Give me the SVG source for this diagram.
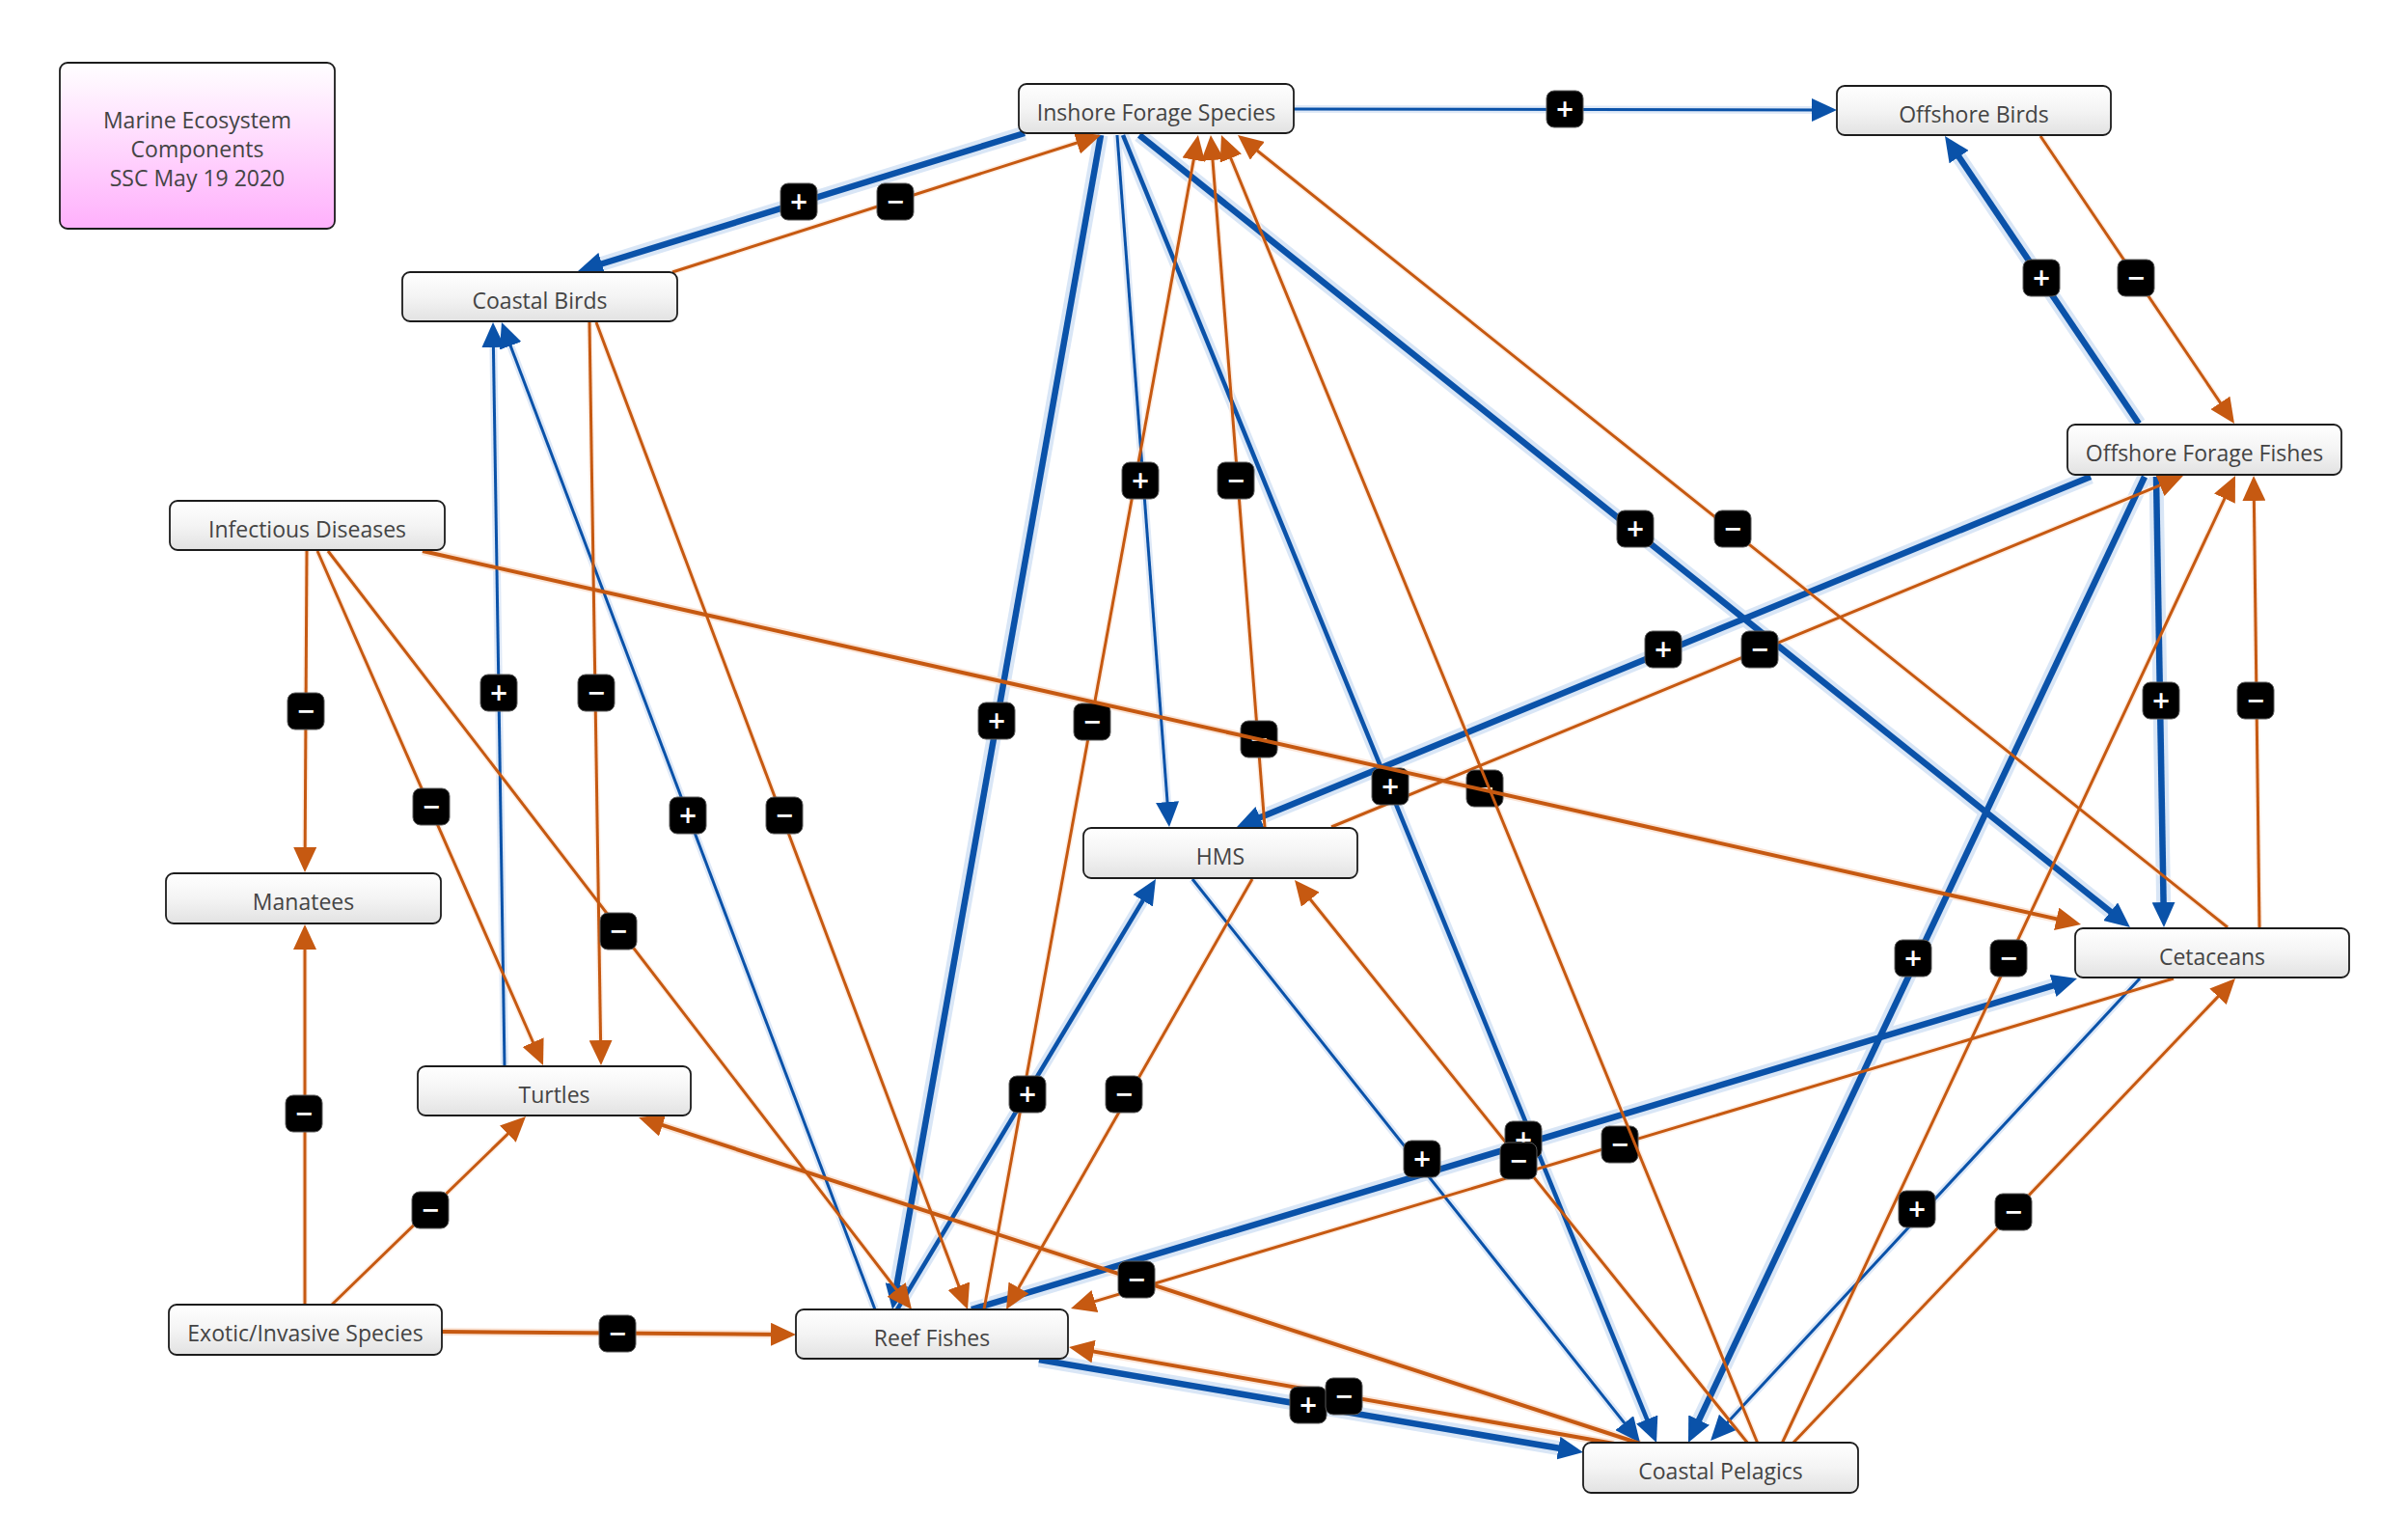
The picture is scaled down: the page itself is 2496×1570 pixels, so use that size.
<svg xmlns="http://www.w3.org/2000/svg" width="2496" height="1570" viewBox="0 0 2496 1570">
<defs>
<linearGradient id="gNode" x1="0" y1="0" x2="0" y2="1">
<stop offset="0" stop-color="#ffffff"/><stop offset="0.5" stop-color="#f4f4f4"/><stop offset="1" stop-color="#e2e2e2"/>
</linearGradient>
<linearGradient id="gLegend" x1="0" y1="0" x2="0" y2="1">
<stop offset="0" stop-color="#ffffff"/><stop offset="1" stop-color="#ffb0fc"/>
</linearGradient>
<marker id="ab" markerUnits="userSpaceOnUse" markerWidth="26" markerHeight="24" viewBox="0 0 26 24" refX="14" refY="12" orient="auto"><path d="M0,0 L26,12 L0,24 z" fill="#0a52a9"/></marker>
<marker id="ao" markerUnits="userSpaceOnUse" markerWidth="26" markerHeight="24" viewBox="0 0 26 24" refX="14" refY="12" orient="auto"><path d="M0,0 L26,12 L0,24 z" fill="#c65911"/></marker>
</defs>
<style>
.node rect{fill:url(#gNode);stroke:#1c1c1c;stroke-width:1.8}
.node text,.legend text{font-family:"Open Sans","Liberation Sans",sans-serif;font-size:23px;fill:#444444;text-anchor:middle}
.legend rect{fill:url(#gLegend);stroke:#1c1c1c;stroke-width:1.8}
line{fill:none;stroke-linecap:butt}
.h.b1{stroke:#d9e6f6;stroke-width:15}
.l.b1{stroke:#0a52a9;stroke-width:6.5}
.h.b2{stroke:#d9e6f6;stroke-width:12}
.l.b2{stroke:#0a52a9;stroke-width:4.5}
.h.b3{stroke:#dfe9f7;stroke-width:8}
.l.b3{stroke:#0a52a9;stroke-width:3}
.h.o1{stroke:#fbe5d7;stroke-width:8}
.l.o1{stroke:#c65911;stroke-width:4}
.h.o2{stroke:#fdeee4;stroke-width:6}
.l.o2{stroke:#c65911;stroke-width:3}
.l.b1,.l.b2,.l.b3{marker-end:url(#ab)}
.l.o1,.l.o2{marker-end:url(#ao)}
.bd rect{fill:#000;stroke:#5a5a5a;stroke-width:1}
.bd text{font-family:"DejaVu Sans",sans-serif;font-weight:bold;font-size:24px;fill:#fff;text-anchor:middle}
</style>
<rect width="2496" height="1570" fill="#ffffff"/>
<g id="connectors">
<g id="halos">
<line class="h b3" x1="1341" y1="113" x2="1878" y2="114"/>
<line class="h b1" x1="1062" y1="138" x2="623.8" y2="273.3"/>
<line class="h b1" x1="2217" y1="439" x2="2030.5" y2="162.6"/>
<line class="h b3" x1="1158" y1="140" x2="1210" y2="831.1"/>
<line class="h b1" x1="1181" y1="140" x2="2187.7" y2="944.8"/>
<line class="h b1" x1="2167" y1="494" x2="1306" y2="847.1"/>
<line class="h b3" x1="523" y1="1105" x2="511.4" y2="360"/>
<line class="h b1" x1="1141" y1="140" x2="929.5" y2="1331.4"/>
<line class="h b1" x1="2235" y1="494" x2="2242.6" y2="935"/>
<line class="h b2" x1="1164" y1="140" x2="1707.2" y2="1470.9"/>
<line class="h b3" x1="907" y1="1357" x2="529.2" y2="358.3"/>
<line class="h b1" x1="2223" y1="494" x2="1761.1" y2="1471.5"/>
<line class="h b2" x1="930" y1="1357" x2="1184.6" y2="933.3"/>
<line class="h b3" x1="1236" y1="911" x2="1683.8" y2="1474.6"/>
<line class="h b1" x1="1007" y1="1357" x2="2128.1" y2="1021.5"/>
<line class="h b3" x1="2218" y1="1014" x2="1790.7" y2="1473.9"/>
<line class="h b1" x1="1077" y1="1409" x2="1615.4" y2="1500.6"/>
<line class="h o2" x1="697" y1="282" x2="1116.2" y2="147.9"/>
<line class="h o2" x1="2115" y1="141" x2="2301.5" y2="417.4"/>
<line class="h o2" x1="1311" y1="857" x2="1257" y2="165.9"/>
<line class="h o2" x1="2309" y1="961" x2="1303.3" y2="156.3"/>
<line class="h o2" x1="1380" y1="857" x2="2239" y2="502.9"/>
<line class="h o2" x1="318" y1="571" x2="316.2" y2="878"/>
<line class="h o2" x1="611" y1="334" x2="622.6" y2="1078"/>
<line class="h o2" x1="1020" y1="1357" x2="1237.3" y2="165.6"/>
<line class="h o2" x1="2342" y1="961" x2="2336.3" y2="519"/>
<line class="h o1" x1="438" y1="571" x2="2131.6" y2="952.3"/>
<line class="h o2" x1="1822" y1="1496" x2="1275.9" y2="164.1"/>
<line class="h o2" x1="329" y1="571" x2="552.5" y2="1080.2"/>
<line class="h o2" x1="618" y1="334" x2="993.8" y2="1332.7"/>
<line class="h o2" x1="340" y1="571" x2="929.1" y2="1336.4"/>
<line class="h o2" x1="1847" y1="1496" x2="2306" y2="516.5"/>
<line class="h o2" x1="1298" y1="911" x2="1055.9" y2="1334.4"/>
<line class="h o2" x1="316" y1="1352" x2="316" y2="984"/>
<line class="h o2" x1="1812" y1="1496" x2="1358.3" y2="932.3"/>
<line class="h o2" x1="2253" y1="1014" x2="1134.9" y2="1348.5"/>
<line class="h o2" x1="1858" y1="1496" x2="2299.1" y2="1032.8"/>
<line class="h o2" x1="344" y1="1352" x2="526.3" y2="1175.1"/>
<line class="h o1" x1="458" y1="1380" x2="799" y2="1382.8"/>
<line class="h o1" x1="1700" y1="1496" x2="686.7" y2="1166"/>
<line class="h o1" x1="1673" y1="1496" x2="1133.6" y2="1400.5"/>
</g>
<g id="lines">
<line id="e-ifs-ob" class="l b3" x1="1341" y1="113" x2="1892" y2="114"/>
<line id="e-ifs-cb" class="l b1" x1="1062" y1="138" x2="610.5" y2="277.5"/>
<line id="e-off-ob" class="l b1" x1="2217" y1="439" x2="2022.7" y2="151"/>
<line id="e-ifs-hms" class="l b3" x1="1158" y1="140" x2="1211.1" y2="845"/>
<line id="e-ifs-cet" class="l b1" x1="1181" y1="140" x2="2198.6" y2="953.5"/>
<line id="e-off-hms" class="l b1" x1="2167" y1="494" x2="1293.1" y2="852.5"/>
<line id="e-tur-cb" class="l b3" x1="523" y1="1105" x2="511.2" y2="346"/>
<line id="e-ifs-rf" class="l b1" x1="1141" y1="140" x2="927.1" y2="1345.2"/>
<line id="e-off-cet" class="l b1" x1="2235" y1="494" x2="2242.8" y2="949"/>
<line id="e-ifs-cp" class="l b2" x1="1164" y1="140" x2="1712.5" y2="1483.9"/>
<line id="e-rf-cb" class="l b3" x1="907" y1="1357" x2="524.2" y2="345.2"/>
<line id="e-off-cp" class="l b1" x1="2223" y1="494" x2="1755.1" y2="1484.2"/>
<line id="e-rf-hms" class="l b2" x1="930" y1="1357" x2="1191.8" y2="921.3"/>
<line id="e-hms-cp" class="l b3" x1="1236" y1="911" x2="1692.5" y2="1485.6"/>
<line id="e-rf-cet" class="l b1" x1="1007" y1="1357" x2="2141.5" y2="1017.4"/>
<line id="e-cet-cp" class="l b3" x1="2218" y1="1014" x2="1781.2" y2="1484.2"/>
<line id="e-rf-cp" class="l b1" x1="1077" y1="1409" x2="1629.2" y2="1503"/>
<line id="e-cb-ifs" class="l o2" x1="697" y1="282" x2="1129.6" y2="143.7"/>
<line id="e-ob-off" class="l o2" x1="2115" y1="141" x2="2309.3" y2="429"/>
<line id="e-hms-ifs" class="l o2" x1="1311" y1="857" x2="1255.9" y2="152"/>
<line id="e-cet-ifs" class="l o2" x1="2309" y1="961" x2="1292.4" y2="147.5"/>
<line id="e-hms-off" class="l o2" x1="1380" y1="857" x2="2251.9" y2="497.6"/>
<line id="e-id-man" class="l o2" x1="318" y1="571" x2="316.1" y2="892"/>
<line id="e-cb-tur" class="l o2" x1="611" y1="334" x2="622.8" y2="1092"/>
<line id="e-rf-ifs" class="l o2" x1="1020" y1="1357" x2="1239.8" y2="151.8"/>
<line id="e-cet-off" class="l o2" x1="2342" y1="961" x2="2336.2" y2="505"/>
<line id="e-id-tur" class="l o2" x1="329" y1="571" x2="558.2" y2="1093"/>
<line id="e-cb-rf" class="l o2" x1="618" y1="334" x2="998.8" y2="1345.8"/>
<line id="e-id-rf" class="l o2" x1="340" y1="571" x2="937.7" y2="1347.5"/>
<line id="e-cp-off" class="l o2" x1="1847" y1="1496" x2="2311.9" y2="503.9"/>
<line id="e-hms-rf" class="l o2" x1="1298" y1="911" x2="1049" y2="1346.6"/>
<line id="e-exo-man" class="l o2" x1="316" y1="1352" x2="316" y2="970"/>
<line id="e-cp-hms" class="l o2" x1="1812" y1="1496" x2="1349.5" y2="921.3"/>
<line id="e-cet-rf" class="l o2" x1="2253" y1="1014" x2="1121.5" y2="1352.6"/>
<line id="e-cp-cet" class="l o2" x1="1858" y1="1496" x2="2308.7" y2="1022.7"/>
<line id="e-exo-tur" class="l o2" x1="344" y1="1352" x2="536.4" y2="1165.4"/>
<line id="e-exo-rf" class="l o1" x1="458" y1="1380" x2="813" y2="1382.9"/>
<line id="e-cp-tur" class="l o1" x1="1700" y1="1496" x2="673.4" y2="1161.7"/>
<line id="e-cp-rf" class="l o1" x1="1673" y1="1496" x2="1119.8" y2="1398.1"/>
</g>
<g id="badges">
<g class="bd" transform="translate(1622,113)"><rect x="-19" y="-19" width="38" height="38" rx="8"/><text y="8">+</text></g>
<g class="bd" transform="translate(828,209)"><rect x="-19" y="-19" width="38" height="38" rx="8"/><text y="8">+</text></g>
<g class="bd" transform="translate(2116,288)"><rect x="-19" y="-19" width="38" height="38" rx="8"/><text y="8">+</text></g>
<g class="bd" transform="translate(1182,498)"><rect x="-19" y="-19" width="38" height="38" rx="8"/><text y="8">+</text></g>
<g class="bd" transform="translate(1695,548)"><rect x="-19" y="-19" width="38" height="38" rx="8"/><text y="8">+</text></g>
<g class="bd" transform="translate(1724,673)"><rect x="-19" y="-19" width="38" height="38" rx="8"/><text y="8">+</text></g>
<g class="bd" transform="translate(517,718)"><rect x="-19" y="-19" width="38" height="38" rx="8"/><text y="8">+</text></g>
<g class="bd" transform="translate(1033,747)"><rect x="-19" y="-19" width="38" height="38" rx="8"/><text y="8">+</text></g>
<g class="bd" transform="translate(2240,726)"><rect x="-19" y="-19" width="38" height="38" rx="8"/><text y="8">+</text></g>
<g class="bd" transform="translate(1441,815)"><rect x="-19" y="-19" width="38" height="38" rx="8"/><text y="8">+</text></g>
<g class="bd" transform="translate(713,845)"><rect x="-19" y="-19" width="38" height="38" rx="8"/><text y="8">+</text></g>
<g class="bd" transform="translate(1983,993)"><rect x="-19" y="-19" width="38" height="38" rx="8"/><text y="8">+</text></g>
<g class="bd" transform="translate(1065,1134)"><rect x="-19" y="-19" width="38" height="38" rx="8"/><text y="8">+</text></g>
<g class="bd" transform="translate(1474,1201)"><rect x="-19" y="-19" width="38" height="38" rx="8"/><text y="8">+</text></g>
<g class="bd" transform="translate(1579,1181)"><rect x="-19" y="-19" width="38" height="38" rx="8"/><text y="8">+</text></g>
<g class="bd" transform="translate(1987,1253)"><rect x="-19" y="-19" width="38" height="38" rx="8"/><text y="8">+</text></g>
<g class="bd" transform="translate(1356,1456)"><rect x="-19" y="-19" width="38" height="38" rx="8"/><text y="8">+</text></g>
<g class="bd" transform="translate(928,209)"><rect x="-19" y="-19" width="38" height="38" rx="8"/><text y="8">−</text></g>
<g class="bd" transform="translate(2214,288)"><rect x="-19" y="-19" width="38" height="38" rx="8"/><text y="8">−</text></g>
<g class="bd" transform="translate(1281,498)"><rect x="-19" y="-19" width="38" height="38" rx="8"/><text y="8">−</text></g>
<g class="bd" transform="translate(1796,548)"><rect x="-19" y="-19" width="38" height="38" rx="8"/><text y="8">−</text></g>
<g class="bd" transform="translate(1824,673)"><rect x="-19" y="-19" width="38" height="38" rx="8"/><text y="8">−</text></g>
<g class="bd" transform="translate(317,737)"><rect x="-19" y="-19" width="38" height="38" rx="8"/><text y="8">−</text></g>
<g class="bd" transform="translate(618,718)"><rect x="-19" y="-19" width="38" height="38" rx="8"/><text y="8">−</text></g>
<g class="bd" transform="translate(1132,748)"><rect x="-19" y="-19" width="38" height="38" rx="8"/><text y="8">−</text></g>
<g class="bd" transform="translate(2338,726)"><rect x="-19" y="-19" width="38" height="38" rx="8"/><text y="8">−</text></g>
<g class="bd" transform="translate(1305,766)"><rect x="-19" y="-19" width="38" height="38" rx="8"/><text y="8">−</text></g>
<g class="bd" transform="translate(1539,817)"><rect x="-19" y="-19" width="38" height="38" rx="8"/><text y="8">−</text></g>
<g class="bd" transform="translate(447,836)"><rect x="-19" y="-19" width="38" height="38" rx="8"/><text y="8">−</text></g>
<g class="bd" transform="translate(813,845)"><rect x="-19" y="-19" width="38" height="38" rx="8"/><text y="8">−</text></g>
<g class="bd" transform="translate(641,965)"><rect x="-19" y="-19" width="38" height="38" rx="8"/><text y="8">−</text></g>
<g class="bd" transform="translate(2082,993)"><rect x="-19" y="-19" width="38" height="38" rx="8"/><text y="8">−</text></g>
<g class="bd" transform="translate(1165,1134)"><rect x="-19" y="-19" width="38" height="38" rx="8"/><text y="8">−</text></g>
<g class="bd" transform="translate(315,1154)"><rect x="-19" y="-19" width="38" height="38" rx="8"/><text y="8">−</text></g>
<g class="bd" transform="translate(1574,1203)"><rect x="-19" y="-19" width="38" height="38" rx="8"/><text y="8">−</text></g>
<g class="bd" transform="translate(1679,1186)"><rect x="-19" y="-19" width="38" height="38" rx="8"/><text y="8">−</text></g>
<g class="bd" transform="translate(2087,1256)"><rect x="-19" y="-19" width="38" height="38" rx="8"/><text y="8">−</text></g>
<g class="bd" transform="translate(446,1254)"><rect x="-19" y="-19" width="38" height="38" rx="8"/><text y="8">−</text></g>
<g class="bd" transform="translate(640,1382)"><rect x="-19" y="-19" width="38" height="38" rx="8"/><text y="8">−</text></g>
<g class="bd" transform="translate(1178,1326)"><rect x="-19" y="-19" width="38" height="38" rx="8"/><text y="8">−</text></g>
<g class="bd" transform="translate(1393,1447)"><rect x="-19" y="-19" width="38" height="38" rx="8"/><text y="8">−</text></g>
</g>
<g id="lines-top">
<line id="e-id-cet" class="l o1" x1="438" y1="571" x2="2145.3" y2="955.4"/>
<line id="e-cp-ifs" class="l o2" x1="1822" y1="1496" x2="1270.5" y2="151.1"/>
</g>
</g>
<g id="legend" class="legend">
<rect x="62" y="65" width="285" height="172" rx="8"/>
<text x="204.5" y="133">Marine Ecosystem</text>
<text x="204.5" y="163">Components</text>
<text x="204.5" y="193">SSC May 19 2020</text>
</g>
<g id="n-ifs" class="node"><rect x="1056" y="87" width="285" height="51" rx="8"/><text x="1198.5" y="125">Inshore Forage Species</text></g>
<g id="n-ob" class="node"><rect x="1904" y="89" width="284" height="51" rx="8"/><text x="2046" y="127">Offshore Birds</text></g>
<g id="n-cb" class="node"><rect x="417" y="282" width="285" height="51" rx="8"/><text x="559.5" y="320">Coastal Birds</text></g>
<g id="n-off" class="node"><rect x="2143" y="440" width="284" height="52" rx="8"/><text x="2285" y="478">Offshore Forage Fishes</text></g>
<g id="n-id" class="node"><rect x="176" y="519" width="285" height="51" rx="8"/><text x="318.5" y="557">Infectious Diseases</text></g>
<g id="n-man" class="node"><rect x="172" y="905" width="285" height="52" rx="8"/><text x="314.5" y="943">Manatees</text></g>
<g id="n-hms" class="node"><rect x="1123" y="858" width="284" height="52" rx="8"/><text x="1265" y="896">HMS</text></g>
<g id="n-cet" class="node"><rect x="2151" y="962" width="284" height="51" rx="8"/><text x="2293" y="1000">Cetaceans</text></g>
<g id="n-tur" class="node"><rect x="433" y="1105" width="283" height="51" rx="8"/><text x="574.5" y="1143">Turtles</text></g>
<g id="n-exo" class="node"><rect x="175" y="1352" width="283" height="52" rx="8"/><text x="316.5" y="1390">Exotic/Invasive Species</text></g>
<g id="n-rf" class="node"><rect x="825" y="1357" width="282" height="51" rx="8"/><text x="966" y="1395">Reef Fishes</text></g>
<g id="n-cp" class="node"><rect x="1641" y="1495" width="285" height="52" rx="8"/><text x="1783.5" y="1533">Coastal Pelagics</text></g>
</svg>
